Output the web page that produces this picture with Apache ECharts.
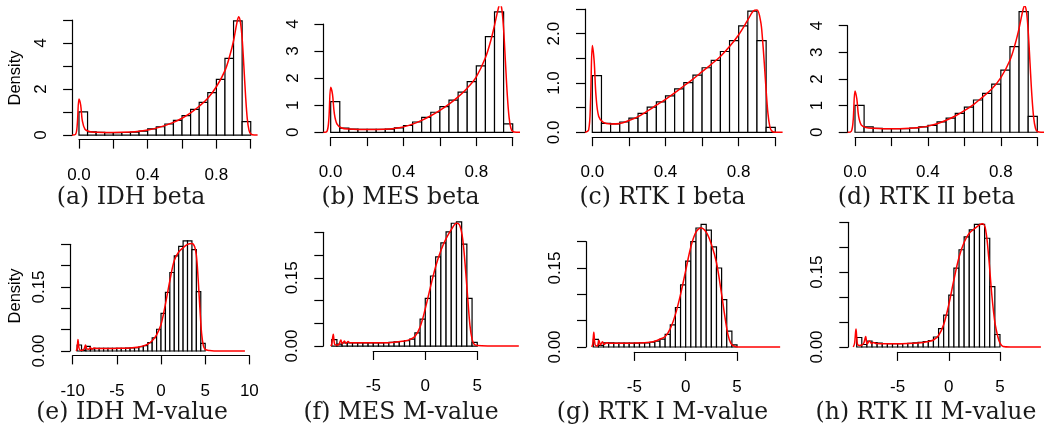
<!DOCTYPE html>
<html>
<head>
<meta charset="utf-8">
<script src="https://cdn.jsdelivr.net/npm/echarts@6/dist/echarts.min.js"></script>
<style>
  html, body { margin: 0; padding: 0; background: #fff; }
  #chart { width: 1044px; height: 430px; }
</style>
</head>
<body>
<div id="chart"></div>
<script>
// ---- histogram breaks ----
const betaBreaks = [0, 0.05, 0.1, 0.15, 0.2, 0.25, 0.3, 0.35, 0.4, 0.45, 0.5,
  0.55, 0.6, 0.65, 0.7, 0.75, 0.8, 0.85, 0.9, 0.95, 1.0];
const idhMBreaks = [-9.5, -9, -8.5, -8, -7.5, -7, -6.5, -6, -5.5, -5, -4.5, -4, -3.5, -3,
  -2.5, -2, -1.5, -1, -0.5, 0, 0.5, 1, 1.5, 2, 2.5, 3, 3.5, 4, 4.5, 5];
const mBreaks = [-9, -8.5, -8, -7.5, -7, -6.5, -6, -5.5, -5, -4.5, -4, -3.5, -3,
  -2.5, -2, -1.5, -1, -0.5, 0, 0.5, 1, 1.5, 2, 2.5, 3, 3.5, 4, 4.5, 5];

// ---- histogram densities ----
const idhBetaHist = [1.01, 0.14, 0.12, 0.10, 0.10, 0.11, 0.13, 0.17, 0.27, 0.36,
  0.48, 0.64, 0.84, 1.12, 1.42, 1.84, 2.42, 3.33, 4.96, 0.58];
const mesBetaHist = [1.13, 0.15, 0.12, 0.11, 0.11, 0.11, 0.12, 0.16, 0.25, 0.38,
  0.55, 0.74, 0.95, 1.19, 1.48, 1.87, 2.45, 3.53, 4.45, 0.31];
const rtk1BetaHist = [1.15, 0.18, 0.17, 0.21, 0.29, 0.385, 0.51, 0.62, 0.74, 0.88,
  1.01, 1.16, 1.31, 1.46, 1.64, 1.86, 2.16, 2.46, 1.86, 0.10];
const rtk2BetaHist = [1.01, 0.20, 0.15, 0.14, 0.14, 0.14, 0.16, 0.20, 0.26, 0.39,
  0.53, 0.71, 0.94, 1.21, 1.46, 1.81, 2.33, 3.21, 4.53, 0.60];

const idhMHist = [0.014, 0.002, 0.011, 0.005, 0.006, 0.006, 0.006, 0.006, 0.006, 0.006,
  0.006, 0.0065, 0.007, 0.008, 0.010, 0.0125, 0.0195, 0.031, 0.051, 0.088,
  0.1375, 0.184, 0.223, 0.245, 0.258, 0.258, 0.2375, 0.139, 0.018];
const mesMHist = [0.014, 0.004, 0.007, 0.007, 0.007, 0.007, 0.007, 0.007, 0.007, 0.007,
  0.0072, 0.008, 0.009, 0.010, 0.012, 0.015, 0.029, 0.059, 0.105, 0.154,
  0.196, 0.227, 0.251, 0.270, 0.273, 0.224, 0.105, 0.008];
const rtk1MHist = [0.0146, 0.003, 0.008, 0.008, 0.0075, 0.0075, 0.0075, 0.0075, 0.0075, 0.0078,
  0.008, 0.009, 0.011, 0.015, 0.024, 0.042, 0.075, 0.118, 0.163, 0.200,
  0.226, 0.233, 0.222, 0.190, 0.150, 0.090, 0.030, 0.004];
const rtk2MHist = [0.019, 0.005, 0.012, 0.009, 0.008, 0.007, 0.0065, 0.0065, 0.0065, 0.007,
  0.0075, 0.0085, 0.0095, 0.011, 0.013, 0.020, 0.037, 0.064, 0.104, 0.158,
  0.195, 0.221, 0.235, 0.246, 0.246, 0.218, 0.121, 0.025];

// ---- kernel density curves [x, density] ----
const idhBetaDensity = [[-0.04, 0], [-0.02, 0.03], [-0.01, 0.45], [0, 1.57], [0.01, 1.3], [0.02, 0.6],
  [0.035, 0.25], [0.06, 0.15], [0.1, 0.12], [0.2, 0.11], [0.3, 0.13], [0.35, 0.16], [0.4, 0.22],
  [0.45, 0.3], [0.5, 0.41], [0.55, 0.55], [0.6, 0.73], [0.65, 0.96], [0.7, 1.25], [0.75, 1.6],
  [0.8, 2.1], [0.85, 2.8], [0.88, 3.5], [0.9, 4.1], [0.92, 4.9], [0.93, 5.14], [0.94, 4.9],
  [0.95, 4.2], [0.96, 3.0], [0.97, 1.7], [0.98, 0.7], [0.99, 0.2], [1.0, 0.05], [1.02, 0], [1.04, 0]];
const mesBetaDensity = [[-0.04, 0], [-0.02, 0.04], [-0.01, 0.5], [0, 1.66], [0.01, 1.4], [0.02, 0.7],
  [0.035, 0.3], [0.06, 0.16], [0.1, 0.12], [0.2, 0.1], [0.3, 0.11], [0.35, 0.14], [0.4, 0.2],
  [0.45, 0.3], [0.5, 0.44], [0.55, 0.61], [0.6, 0.81], [0.65, 1.04], [0.7, 1.31], [0.75, 1.63],
  [0.8, 2.05], [0.85, 2.75], [0.88, 3.4], [0.9, 3.95], [0.92, 4.55], [0.93, 4.75], [0.94, 4.55],
  [0.95, 3.8], [0.96, 2.6], [0.97, 1.4], [0.98, 0.55], [0.99, 0.15], [1.0, 0.03], [1.02, 0], [1.04, 0]];
const rtk1BetaDensity = [[-0.04, 0], [-0.02, 0.05], [-0.01, 0.6], [0, 1.76], [0.01, 1.45], [0.02, 0.75],
  [0.035, 0.32], [0.06, 0.2], [0.1, 0.17], [0.15, 0.18], [0.2, 0.24], [0.25, 0.32], [0.3, 0.43],
  [0.35, 0.55], [0.4, 0.67], [0.45, 0.8], [0.5, 0.94], [0.55, 1.08], [0.6, 1.23], [0.65, 1.38],
  [0.7, 1.54], [0.75, 1.74], [0.8, 1.98], [0.85, 2.28], [0.88, 2.46], [0.9, 2.48], [0.92, 2.25],
  [0.93, 1.9], [0.94, 1.4], [0.95, 0.85], [0.96, 0.38], [0.97, 0.12], [0.98, 0.03], [1.0, 0], [1.04, 0]];
const rtk2BetaDensity = [[-0.04, 0], [-0.02, 0.04], [-0.01, 0.45], [0, 1.55], [0.01, 1.25], [0.02, 0.6],
  [0.035, 0.27], [0.06, 0.18], [0.1, 0.15], [0.2, 0.13], [0.3, 0.15], [0.35, 0.18], [0.4, 0.23],
  [0.45, 0.32], [0.5, 0.45], [0.55, 0.61], [0.6, 0.81], [0.65, 1.04], [0.7, 1.32], [0.75, 1.62],
  [0.8, 2.05], [0.85, 2.7], [0.88, 3.35], [0.9, 3.9], [0.92, 4.55], [0.93, 4.75], [0.94, 4.55],
  [0.95, 3.8], [0.96, 2.6], [0.97, 1.4], [0.98, 0.55], [0.99, 0.15], [1.0, 0.03], [1.02, 0], [1.04, 0]];

const idhMDensity = [[-9.6, 0], [-9.5, 0.006], [-9.4, 0.027], [-9.3, 0.008], [-9.15, 0.002], [-8.9, 0.002],
  [-8.7, 0.005], [-8.55, 0.014], [-8.4, 0.005], [-8.2, 0.004], [-8.0, 0.008], [-7.85, 0.004],
  [-7.6, 0.007], [-7.3, 0.006], [-7, 0.006], [-6, 0.006], [-5, 0.0062], [-4, 0.0065], [-3, 0.008],
  [-2.5, 0.0095], [-2, 0.012], [-1.5, 0.016], [-1, 0.024], [-0.5, 0.038], [0, 0.062], [0.5, 0.11],
  [1, 0.165], [1.5, 0.212], [2, 0.232], [2.5, 0.242], [3, 0.25], [3.5, 0.252], [3.8, 0.245],
  [4.0, 0.225], [4.2, 0.17], [4.4, 0.1], [4.6, 0.04], [4.8, 0.012], [5.0, 0.004], [5.5, 0.001],
  [6, 0], [9.5, 0]];
const mesMDensity = [[-9.1, 0], [-9.0, 0.004], [-8.85, 0.026], [-8.72, 0.004], [-8.5, 0.002], [-8.3, 0.004],
  [-8.12, 0.013], [-7.98, 0.005], [-7.78, 0.011], [-7.62, 0.006], [-7.42, 0.010], [-7.25, 0.007],
  [-7, 0.007], [-6, 0.007], [-5, 0.007], [-4, 0.0072], [-3, 0.0085], [-2, 0.011], [-1.5, 0.014],
  [-1, 0.021], [-0.5, 0.042], [0, 0.082], [0.5, 0.13], [1, 0.175], [1.5, 0.21], [2, 0.236],
  [2.5, 0.256], [3, 0.27], [3.3, 0.266], [3.6, 0.235], [3.9, 0.16], [4.1, 0.1], [4.3, 0.045],
  [4.5, 0.015], [4.7, 0.004], [5, 0.001], [6, 0], [9.0, 0]];
const rtk1MDensity = [[-9.15, 0], [-9.05, 0.006], [-8.95, 0.028], [-8.82, 0.004], [-8.6, 0.002], [-8.45, 0.013],
  [-8.3, 0.004], [-8.1, 0.010], [-7.95, 0.005], [-7.7, 0.008], [-7.4, 0.007], [-7, 0.007], [-6, 0.0072],
  [-5, 0.0075], [-4, 0.008], [-3.5, 0.009], [-3, 0.011], [-2.5, 0.015], [-2, 0.02], [-1.5, 0.035],
  [-1, 0.062], [-0.5, 0.1], [0, 0.145], [0.5, 0.19], [1, 0.218], [1.5, 0.226], [2, 0.218],
  [2.5, 0.195], [3, 0.16], [3.5, 0.1], [3.8, 0.06], [4.1, 0.025], [4.4, 0.007], [4.8, 0.001],
  [5.5, 0], [9.2, 0]];
const rtk2MDensity = [[-9.33, 0], [-9.2, 0.008], [-9.07, 0.036], [-8.93, 0.006], [-8.75, 0.003], [-8.5, 0.004],
  [-8.3, 0.008], [-8.12, 0.021], [-7.98, 0.006], [-7.75, 0.012], [-7.55, 0.007], [-7.35, 0.009],
  [-7.1, 0.007], [-6, 0.0065], [-5, 0.0065], [-4, 0.007], [-3, 0.008], [-2.5, 0.009], [-2, 0.011],
  [-1.5, 0.014], [-1, 0.023], [-0.5, 0.045], [0, 0.085], [0.5, 0.135], [1, 0.18], [1.5, 0.21],
  [2, 0.228], [2.5, 0.237], [3, 0.245], [3.3, 0.247], [3.6, 0.235], [3.9, 0.18], [4.2, 0.105],
  [4.5, 0.05], [4.8, 0.02], [5.0, 0.008], [5.3, 0.001], [6, 0], [9.0, 0]];

// ---- ticks and labels ----
const betaXTicks = [0, 0.2, 0.4, 0.6, 0.8, 1.0];
const betaXLabelVals = [0, 0.4, 0.8];
const betaXLabels = ['0.0', '0.4', '0.8'];
const idhMXTicks = [-10, -5, 0, 5, 10];
const idhMXLabels = ['-10', '-5', '0', '5', '10'];
const mXTicks = [-5, 0, 5];
const mXLabels = ['-5', '0', '5'];

const idhBetaYTicks = [0, 1, 2, 3, 4, 5];
const idhBetaYLabelVals = [0, 2, 4];
const idhBetaYLabels = ['0', '2', '4'];
const fourYTicks = [0, 1, 2, 3, 4];
const fourYLabels = ['0', '1', '2', '3', '4'];
const rtk1BetaYTicks = [0, 0.5, 1, 1.5, 2, 2.5];
const rtk1BetaYLabelVals = [0, 1, 2];
const rtk1BetaYLabels = ['0.0', '1.0', '2.0'];
const mYTicks = [0, 0.05, 0.1, 0.15, 0.2, 0.25];
const rtk1MYTicks = [0, 0.05, 0.1, 0.15, 0.2];
const mYLabelVals = [0, 0.15];
const mYLabels = ['0.00', '0.15'];

const captions = ['(a) IDH beta', '(b) MES beta', '(c) RTK I beta', '(d) RTK II beta',
  '(e) IDH M-value', '(f) MES M-value', '(g) RTK I M-value', '(h) RTK II M-value'];

// ---- panel layout: plot box [left, top, right, bottom] in px, x range of plot region ----
const panels = [
  { hist: idhBetaHist, breaks: betaBreaks, dens: idhBetaDensity, box: [72.1, 16.4, 257.6, 139.6], xr: [-0.04, 1.04],
    xt: betaXTicks, xlv: betaXLabelVals, xl: betaXLabels, yt: idhBetaYTicks, ylv: idhBetaYLabelVals, yl: idhBetaYLabels,
    cap: [131, 197.5], ylab: true },
  { hist: mesBetaHist, breaks: betaBreaks, dens: mesBetaDensity, box: [323.4, 7.0, 520, 137.1], xr: [-0.04, 1.04],
    xt: betaXTicks, xlv: betaXLabelVals, xl: betaXLabels, yt: fourYTicks, ylv: fourYTicks, yl: fourYLabels,
    cap: [400.5, 197.5] },
  { hist: rtk1BetaHist, breaks: betaBreaks, dens: rtk1BetaDensity, box: [585, 6.2, 782.6, 137.2], xr: [-0.04, 1.04],
    xt: betaXTicks, xlv: betaXLabelVals, xl: betaXLabels, yt: rtk1BetaYTicks, ylv: rtk1BetaYLabelVals, yl: rtk1BetaYLabels,
    cap: [662.5, 197.5] },
  { hist: rtk2BetaHist, breaks: betaBreaks, dens: rtk2BetaDensity, box: [847.7, 6.7, 1044.6, 137.1], xr: [-0.04, 1.04],
    xt: betaXTicks, xlv: betaXLabelVals, xl: betaXLabels, yt: fourYTicks, ylv: fourYTicks, yl: fourYLabels,
    cap: [926.5, 197.5] },
  { hist: idhMHist, breaks: idhMBreaks, dens: idhMDensity, box: [70.05, 236.5, 252, 355.4], xr: [-10.3, 10.3],
    xt: idhMXTicks, xlv: idhMXTicks, xl: idhMXLabels, yt: mYTicks, ylv: mYLabelVals, yl: mYLabels,
    cap: [132, 412.5], ylab: true },
  { hist: mesMHist, breaks: mBreaks, dens: mesMDensity, box: [323.3, 216.9, 523, 351], xr: [-9.81, 9.4],
    xt: mXTicks, xlv: mXTicks, xl: mXLabels, yt: mYTicks, ylv: mYLabelVals, yl: mYLabels,
    cap: [401, 412.5] },
  { hist: rtk1MHist, breaks: mBreaks, dens: rtk1MDensity, box: [586, 219.4, 782.2, 351.9], xr: [-9.71, 9.4],
    xt: mXTicks, xlv: mXTicks, xl: mXLabels, yt: rtk1MYTicks, ylv: mYLabelVals, yl: mYLabels,
    cap: [662.5, 412.5] },
  { hist: rtk2MHist, breaks: mBreaks, dens: rtk2MDensity, box: [848.3, 219.4, 1045, 351.9], xr: [-9.82, 9.4],
    xt: mXTicks, xlv: mXTicks, xl: mXLabels, yt: mYTicks, ylv: mYLabelVals, yl: mYLabels,
    cap: [926, 412.5] }
];

const AXIS_FONT = 'Liberation Sans, Arial, sans-serif';
const CAP_FONT = 'DejaVu Serif, serif';
const INK = '#000';

function labelFor(vals, texts) {
  return (v) => {
    const i = vals.findIndex((u) => Math.abs(u - v) < 1e-9);
    return i < 0 ? '' : texts[i];
  };
}

const grid = [];
const xAxis = [];
const yAxis = [];
const series = [];
const graphic = [];

function hiddenAxis(gi, min, max) {
  return { type: 'value', gridIndex: gi, min: min, max: max, show: false, splitLine: { show: false } };
}

panels.forEach((p, i) => {
  const [L, T, R, B] = p.box;
  const yMax = Math.max(...p.hist);
  const yr = [-0.04 * yMax, 1.04 * yMax];
  const sx = (v) => L + (v - p.xr[0]) / (p.xr[1] - p.xr[0]) * (R - L);
  const sy = (v) => B - (v - yr[0]) / (yr[1] - yr[0]) * (B - T);

  // data grid: bars + density line
  let gi = grid.length;
  grid.push({ left: L, top: T, width: R - L, height: B - T, containLabel: false, outerBoundsMode: 'none' });
  xAxis.push(hiddenAxis(gi, p.xr[0], p.xr[1]));
  yAxis.push(hiddenAxis(gi, yr[0], yr[1]));
  const bins = p.hist.map((h, k) => [p.breaks[k], p.breaks[k + 1], h]);
  series.push({
    type: 'custom',
    xAxisIndex: gi,
    yAxisIndex: gi,
    data: bins,
    encode: { x: [0, 1], y: 2 },
    silent: true,
    clip: true,
    renderItem: (params, api) => {
      const a = api.coord([api.value(0), api.value(2)]);
      const b = api.coord([api.value(1), 0]);
      return {
        type: 'rect',
        shape: { x: a[0], y: a[1], width: b[0] - a[0], height: b[1] - a[1] },
        style: { fill: '#fff', stroke: INK, lineWidth: 1.2 }
      };
    },
    z: 2
  });
  series.push({
    type: 'line',
    xAxisIndex: gi,
    yAxisIndex: gi,
    data: p.dens,
    symbol: 'none',
    smooth: 0.35,
    clip: true,
    silent: true,
    lineStyle: { color: '#ff0000', width: 1.5 },
    z: 3
  });

  // x axis grid spanning the tick range only (R style)
  const x0 = p.xt[0], x1 = p.xt[p.xt.length - 1];
  gi = grid.length;
  grid.push({ left: sx(x0), top: T, width: sx(x1) - sx(x0), height: B - T, containLabel: false, outerBoundsMode: 'none' });
  xAxis.push({
    type: 'value', gridIndex: gi, min: x0, max: x1, position: 'bottom',
    axisLine: { show: true, onZero: false, lineStyle: { color: INK, width: 1.2 } },
    axisTick: { show: true, length: 9, customValues: p.xt, lineStyle: { color: INK, width: 1.2 } },
    axisLabel: { show: true, customValues: p.xlv, formatter: labelFor(p.xlv, p.xl), hideOverlap: false,
      color: INK, fontFamily: AXIS_FONT, fontSize: 17, margin: 27 },
    splitLine: { show: false }
  });
  yAxis.push(hiddenAxis(gi, 0, 1));

  // y axis grid spanning the tick range only
  const y0 = p.yt[0], y1 = p.yt[p.yt.length - 1];
  gi = grid.length;
  grid.push({ left: L, top: sy(y1), width: R - L, height: sy(y0) - sy(y1), containLabel: false, outerBoundsMode: 'none' });
  xAxis.push(hiddenAxis(gi, 0, 1));
  yAxis.push({
    type: 'value', gridIndex: gi, min: y0, max: y1, position: 'left',
    axisLine: { show: true, onZero: false, lineStyle: { color: INK, width: 1.2 } },
    axisTick: { show: true, length: 9, customValues: p.yt, lineStyle: { color: INK, width: 1.2 } },
    axisLabel: { show: true, rotate: 90, customValues: p.ylv, formatter: labelFor(p.ylv, p.yl), hideOverlap: false,
      color: INK, fontFamily: AXIS_FONT, fontSize: 17, margin: 22 },
    splitLine: { show: false }
  });

  graphic.push({
    type: 'text', x: p.cap[0], y: p.cap[1], silent: true,
    style: { text: captions[i], font: '23.5px ' + CAP_FONT, fill: '#1a1a1a', align: 'center', verticalAlign: 'middle' }
  });
  if (p.ylab) {
    graphic.push({
      type: 'text', x: 15.5, y: (T + B) / 2, rotation: Math.PI / 2, silent: true,
      style: { text: 'Density', font: '16.5px ' + AXIS_FONT, fill: INK, align: 'center', verticalAlign: 'middle' }
    });
  }
});

const chart = echarts.init(document.getElementById('chart'), null, { renderer: 'canvas' });
chart.setOption({
  animation: false,
  backgroundColor: '#fff',
  grid: grid,
  xAxis: xAxis,
  yAxis: yAxis,
  series: series,
  graphic: graphic
});
</script>
</body>
</html>
